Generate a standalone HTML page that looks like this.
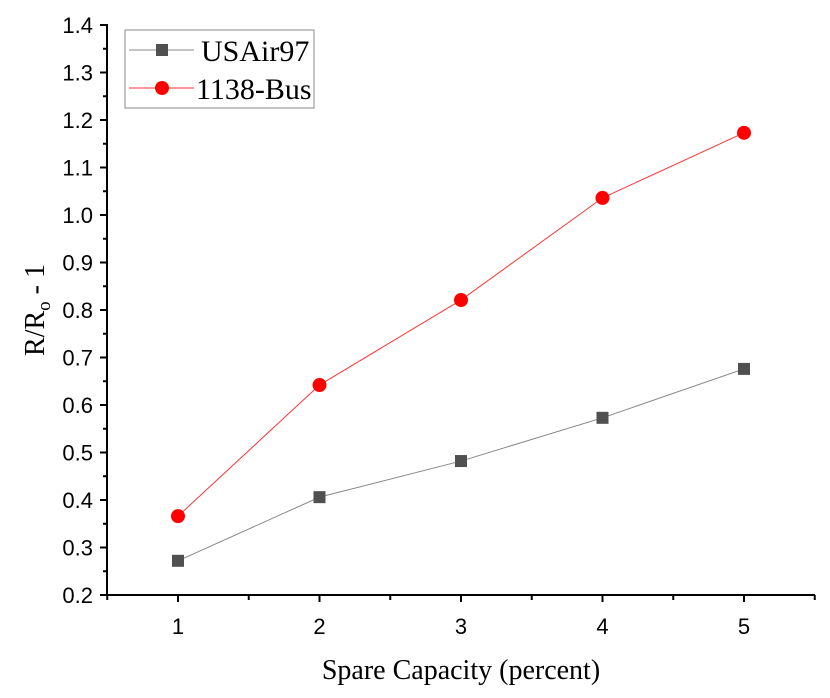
<!DOCTYPE html>
<html><head><meta charset="utf-8"><style>
body{margin:0;background:#fff;}
svg{display:block;}
.tk{font-family:"Liberation Sans",Arial,sans-serif;font-size:22px;fill:#000;}
.sr{font-family:"Liberation Serif","Times New Roman",serif;fill:#000;}
</style></head><body>
<svg id="chart" width="830" height="698">
<g id="axes"></g>
<g id="plot"></g>
<text class="sr" x="461" y="679" font-size="28" text-anchor="middle">Spare Capacity (percent)</text>
<text class="sr" transform="translate(44,310) rotate(-90)" font-size="28" text-anchor="middle">R/R<tspan font-size="19" dy="6">o</tspan><tspan dy="-6"> - 1</tspan></text>
<g>
<rect x="125" y="30" width="189" height="78" fill="#fff" stroke="#888" stroke-width="1"/>
<g>
<line x1="129" y1="50" x2="194" y2="50" stroke="#888" stroke-width="1"/>
<rect x="156" y="44" width="12" height="12" fill="#505050"/>
<text class="sr" x="201" y="61" font-size="30">USAir97</text></g>
<g>
<line x1="129" y1="88" x2="194" y2="88" stroke="#f33" stroke-width="1"/>
<circle cx="162" cy="88" r="7" fill="#f00"/>
<text class="sr" x="196" y="99" font-size="30">1138-Bus</text></g>
</g>
</svg>
<script>
const categories=[1,2,3,4,5];
const usair97=[0.272,0.406,0.482,0.573,0.676];
const bus1138=[0.366,0.642,0.821,1.036,1.173];
const yTicks=[0.2,0.3,0.4,0.5,0.6,0.7,0.8,0.9,1.0,1.1,1.2,1.3,1.4];
const xTicks=[1,2,3,4,5];
const NS="http://www.w3.org/2000/svg";
const X=v=>178+(v-1)*141.5;
const Y=v=>595-(v-0.2)/1.2*570;
function mk(t,a,p){const e=document.createElementNS(NS,t);for(const k in a)e.setAttribute(k,a[k]);p.appendChild(e);return e;}
const ax=document.getElementById('axes'),pl=document.getElementById('plot');
const yl=mk('line',{x1:107,y1:24,x2:107,y2:596,stroke:'#000','stroke-width':2},ax);


const xl=mk('line',{x1:106,y1:595,x2:815,y2:595,stroke:'#000','stroke-width':2},ax);


yTicks.forEach((v,i)=>{
 mk('line',{x1:100,y1:Y(v),x2:107,y2:Y(v),stroke:'#000','stroke-width':2},ax);
 if(i<yTicks.length-1){mk('line',{x1:103,y1:(Y(v)+Y(yTicks[i+1]))/2,x2:107,y2:(Y(v)+Y(yTicks[i+1]))/2,stroke:'#000','stroke-width':2},ax);}
 const t=mk('text',{x:93,y:Y(v)+8,'text-anchor':'end',class:'tk'},ax);t.textContent=v.toFixed(1);
 
 
});
[0.5,1.5,2.5,3.5,4.5,5.5].forEach(v=>mk('line',{x1:X(v),y1:595,x2:X(v),y2:600,stroke:'#000','stroke-width':2},ax));
xTicks.forEach(v=>{
 mk('line',{x1:X(v),y1:595,x2:X(v),y2:602,stroke:'#000','stroke-width':2},ax);
 const t=mk('text',{x:X(v),y:634,'text-anchor':'middle',class:'tk'},ax);t.textContent=v;
 
 
});
function series(vals,color,name,shape,fill){
 const g=mk('g',{},pl);
 
 
 mk('polyline',{points:categories.map((c,i)=>X(c)+','+Y(vals[i])).join(' '),fill:'none',stroke:color,'stroke-width':1},g);
 categories.forEach((c,i)=>{
  let m;
  if(shape==='sq')m=mk('rect',{x:X(c)-6,y:Y(vals[i])-6,width:12,height:12,fill:fill},g);
  else m=mk('circle',{cx:X(c),cy:Y(vals[i]),r:7,fill:fill},g);
  
  
 });
}
series(usair97,'#888','series-usair97','sq','#505050');
series(bus1138,'#f33','series-1138-bus','ci','#f00');
</script>
</body></html>
